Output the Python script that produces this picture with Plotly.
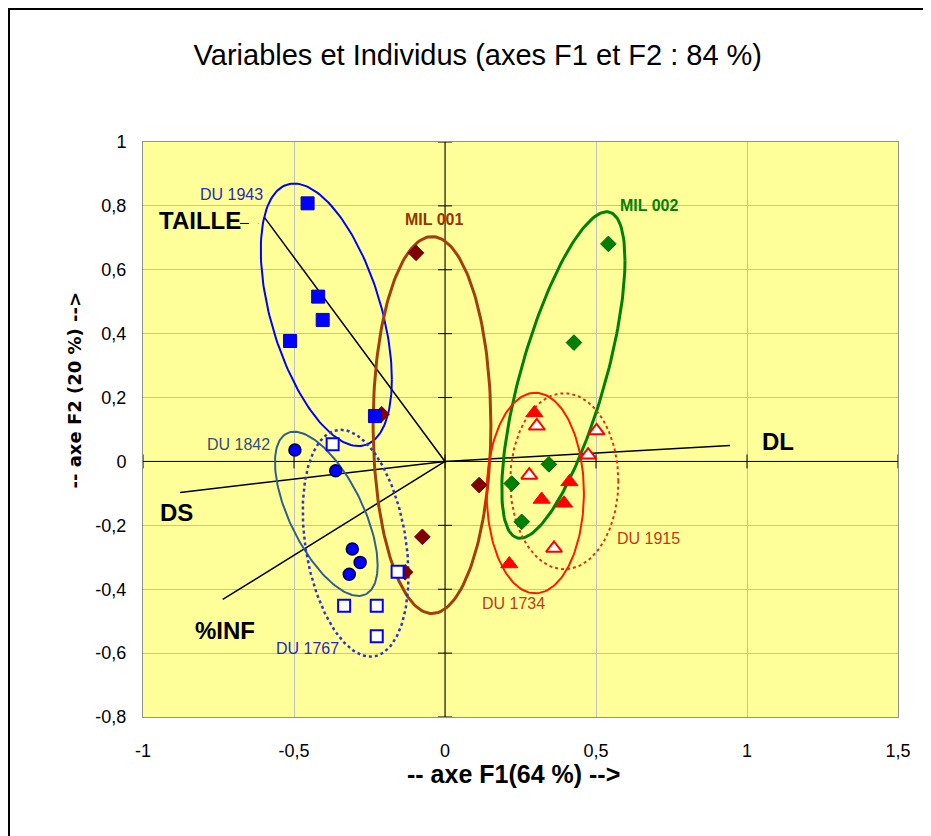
import numpy as np
import plotly.graph_objects as go

# ---------------- data ----------------
# Individuals, grouped by variety
du1943_x = [-0.455, -0.420, -0.405, -0.513, -0.232]
du1943_y = [0.808, 0.516, 0.443, 0.377, 0.142]
du1842_x = [-0.497, -0.362, -0.307, -0.281, -0.317]
du1842_y = [0.036, -0.029, -0.274, -0.316, -0.353]
du1767_x = [-0.372, -0.157, -0.334, -0.226, -0.226]
du1767_y = [0.054, -0.345, -0.452, -0.452, -0.547]
mil001_x = [-0.096, -0.210, -0.075, -0.132, 0.113]
mil001_y = [0.653, 0.148, -0.236, -0.347, -0.074]
mil002_x = [0.541, 0.427, 0.344, 0.221, 0.254]
mil002_y = [0.681, 0.372, -0.009, -0.069, -0.189]
du1734_x = [0.296, 0.412, 0.320, 0.394, 0.213]
du1734_y = [0.152, -0.064, -0.119, -0.131, -0.321]
du1915_x = [0.304, 0.502, 0.474, 0.279, 0.361]
du1915_y = [0.111, 0.096, 0.020, -0.043, -0.272]

# Variables (correlation vectors)
var_names = ["TAILLE", "DS", "%INF", "DL"]
var_x = [-0.598, -0.877, -0.736, 0.944]
var_y = [0.764, -0.097, -0.432, 0.050]
var_label_x = [-0.811, -0.888, -0.728, 1.103]
var_label_y = [0.753, -0.161, -0.528, 0.064]

# Group ellipses: centre, half-width, half-height, skew (y offset of the rightmost point)
ell_names = ["DU 1943", "MIL 001", "MIL 002", "DU 1842", "DU 1767", "DU 1734", "DU 1915"]
ell_cx = [-0.393, -0.043, 0.392, -0.393, -0.296, 0.299, 0.395]
ell_cy = [0.459, 0.114, 0.2705, -0.164, -0.256, -0.099, -0.062]
ell_w = [0.217, 0.195, 0.204, 0.170, 0.175, 0.161, 0.179]
ell_h = [0.411, 0.590, 0.511, 0.257, 0.355, 0.314, 0.2755]
ell_k = [-0.202, 0.0, 0.359, -0.161, -0.100, 0.0, 0.0]
ell_label_x = [-0.706, -0.036, 0.677, -0.685, -0.456, 0.226, 0.673]
ell_label_y = [0.836, 0.756, 0.800, 0.054, -0.585, -0.446, -0.241]

# Axes
x_ticks = [-1, -0.5, 0, 0.5, 1, 1.5]
x_tick_labels = ["-1", "-0,5", "0", "0,5", "1", "1,5"]
y_ticks = [-0.8, -0.6, -0.4, -0.2, 0, 0.2, 0.4, 0.6, 0.8, 1]
y_tick_labels = ["-0,8", "-0,6", "-0,4", "-0,2", "0", "0,2", "0,4", "0,6", "0,8", "1"]

title_text = "Variables et Individus (axes F1 et F2 : 84 %)"
x_title = "-- axe F1(64 %) -->"
y_title = "-- axe F2 (20 %) -->"

# ---------------- styles ----------------
ell_color = ["#0000ff", "#a0400c", "#008000", "#2f5f8f", "#3333cc", "#ff1a00", "#e0301a"]
ell_dash = ["solid", "solid", "solid", "solid", "dot", "solid", "dot"]
ell_width = [2, 3, 3, 2, 2.5, 2, 2]
lab_color = ["#2a2ab8", "#993300", "#008000", "#2f4f7f", "#2a2ab8", "#c03a1a", "#c03a1a"]
lab_bold = [False, True, True, False, False, False, False]

FONT = "Arial, Liberation Sans, sans-serif"

fig = go.Figure()

# variable vectors
for i in range(len(var_names)):
    fig.add_trace(go.Scatter(x=[0, var_x[i]], y=[0, var_y[i]], mode="lines",
                             line=dict(color="black", width=1.5),
                             hoverinfo="skip", showlegend=False))
# leader dashes after TAILLE
fig.add_trace(go.Scatter(x=[var_label_x[0] + 0.132, var_x[0] - 0.02],
                         y=[var_y[0] - 0.019, var_y[0] - 0.019], mode="lines",
                         line=dict(color="black", width=1, dash="dash"),
                         hoverinfo="skip", showlegend=False))

# central axes with cross ticks
px_x = 302.0  # pixels per x unit
px_y = 319.4  # pixels per y unit
tl = 7.0
ax_x = [x_ticks[0], x_ticks[-1], None, 0, 0, None]
ax_y = [0, 0, None, y_ticks[0], y_ticks[-1], None]
for t in x_ticks:
    ax_x += [t, t, None]
    ax_y += [-tl / px_y, tl / px_y, None]
for t in y_ticks:
    ax_x += [-tl / px_x, tl / px_x, None]
    ax_y += [t, t, None]
fig.add_trace(go.Scatter(x=ax_x, y=ax_y, mode="lines", line=dict(color="black", width=1),
                         hoverinfo="skip", showlegend=False))

# ellipses
tt = np.linspace(0, 2 * np.pi, 181)
for i in range(len(ell_names)):
    ex = ell_cx[i] + ell_w[i] * np.cos(tt)
    ey = ell_cy[i] + ell_k[i] * np.cos(tt) + np.sqrt(ell_h[i] ** 2 - ell_k[i] ** 2) * np.sin(tt)
    fig.add_trace(go.Scatter(x=ex, y=ey, mode="lines",
                             line=dict(color=ell_color[i], width=ell_width[i], dash=ell_dash[i]),
                             hoverinfo="skip", showlegend=False))

# individuals
fig.add_trace(go.Scatter(x=mil001_x, y=mil001_y, mode="markers", name="MIL 001",
                         marker=dict(symbol="diamond", size=12, color="#800000",
                                     line=dict(color="#700000", width=1))))
fig.add_trace(go.Scatter(x=mil002_x, y=mil002_y, mode="markers", name="MIL 002",
                         marker=dict(symbol="diamond", size=12, color="#008000",
                                     line=dict(color="#006000", width=1))))
fig.add_trace(go.Scatter(x=du1943_x, y=du1943_y, mode="markers", name="DU 1943",
                         marker=dict(symbol="square", size=13, color="#0000ff",
                                     line=dict(color="#0000cc", width=1))))
fig.add_trace(go.Scatter(x=du1842_x, y=du1842_y, mode="markers", name="DU 1842",
                         marker=dict(symbol="circle", size=12, color="#0000ff",
                                     line=dict(color="#000040", width=1.5))))
fig.add_trace(go.Scatter(x=du1767_x, y=du1767_y, mode="markers", name="DU 1767",
                         marker=dict(symbol="square", size=12, color="white",
                                     line=dict(color="#0000ff", width=2))))
fig.add_trace(go.Scatter(x=du1734_x, y=du1734_y, mode="markers", name="DU 1734",
                         marker=dict(symbol="triangle-up", size=15, color="#ff0000",
                                     line=dict(color="#ff0000", width=1))))
fig.add_trace(go.Scatter(x=du1915_x, y=du1915_y, mode="markers", name="DU 1915",
                         marker=dict(symbol="triangle-up", size=14, color="white",
                                     line=dict(color="#ff0000", width=2))))

annotations = []
for i in range(len(var_names)):
    annotations.append(dict(x=var_label_x[i], y=var_label_y[i], xref="x", yref="y",
                            text="<b>%s</b>" % var_names[i], showarrow=False,
                            font=dict(family=FONT, size=24, color="black")))
for i in range(len(ell_names)):
    txt = "<b>%s</b>" % ell_names[i] if lab_bold[i] else ell_names[i]
    annotations.append(dict(x=ell_label_x[i], y=ell_label_y[i], xref="x", yref="y",
                            text=txt, showarrow=False,
                            font=dict(family=FONT, size=16, color=lab_color[i])))
annotations.append(dict(x=0.491, y=-0.127, xref="paper", yref="paper", text="<b>%s</b>" % x_title,
                        showarrow=False, font=dict(family=FONT, size=25, color="black")))
annotations.append(dict(x=-0.107, y=0.569, xref="paper", yref="paper", text="<b>%s</b>" % y_title,
                        textangle=-90, showarrow=False,
                        font=dict(family="DejaVu Sans, sans-serif", size=18, color="black")))

W, H = 923, 828
fig.update_layout(
    width=W, height=H,
    margin=dict(l=135, r=33, t=134, b=119),
    paper_bgcolor="white", plot_bgcolor="#ffff99",
    showlegend=False,
    title=dict(text=title_text, x=0.509, xanchor="center", y=0.943, yanchor="middle",
               font=dict(family=FONT, size=29, color="black")),
    annotations=annotations,
    shapes=[dict(type="rect", xref="paper", yref="paper", x0=-0.1775, x1=1.1, y0=-0.3, y1=1.2313,
                 line=dict(color="black", width=2), layer="below")],
    xaxis=dict(range=[-1, 1.5], tickvals=x_ticks, ticktext=x_tick_labels, showgrid=True,
               gridcolor="#c0c0c0", gridwidth=1, zeroline=False, showline=True, linecolor="#909090",
               mirror=True, ticks="outside", ticklen=17, tickcolor="rgba(0,0,0,0)",
               tickfont=dict(family=FONT, size=18, color="black"), fixedrange=True),
    yaxis=dict(range=[-0.8, 1], tickvals=y_ticks, ticktext=y_tick_labels, showgrid=True,
               gridcolor="#c0c0c0", gridwidth=1, zeroline=False, showline=True, linecolor="#909090",
               mirror=True, ticks="outside", ticklen=12, tickcolor="rgba(0,0,0,0)",
               tickfont=dict(family=FONT, size=18, color="black"), fixedrange=True),
)

fig.write_html("out.html")
